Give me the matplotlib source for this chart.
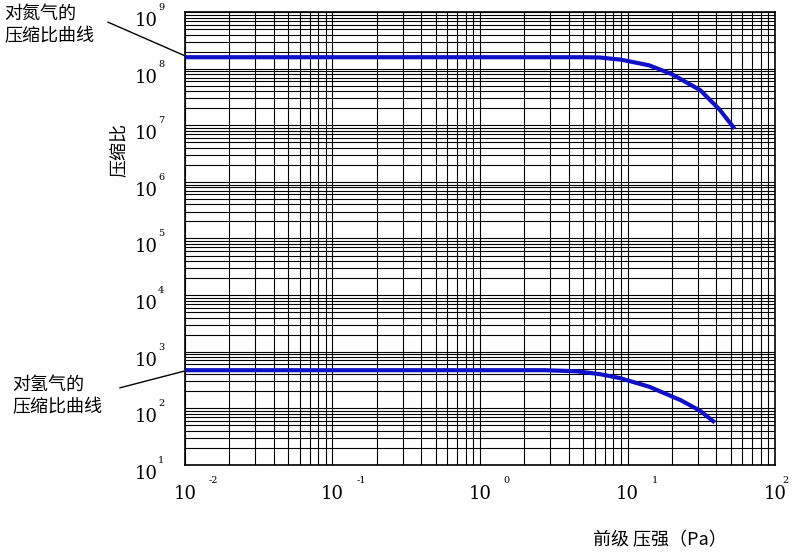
import matplotlib
matplotlib.use("Agg")
import matplotlib.pyplot as plt
from matplotlib.ticker import LogLocator, NullFormatter

plt.rcParams['font.family'] = ['Noto Sans CJK SC', 'DejaVu Sans']

n2_x = [0.01, 1.0, 5.0, 6.5, 9.0, 14, 20, 31, 42, 52]
n2_y = [1.6e8, 1.6e8, 1.6e8, 1.58e8, 1.45e8, 1.15e8, 8.0e7, 4.2e7, 1.9e7, 9.3e6]
h2_x = [0.01, 1.0, 2.75, 4.5, 6.5, 8.9, 14, 23, 31, 38]
h2_y = [470, 470, 470, 450, 400, 340, 240, 138, 90, 59]

x_ticks = [0.01, 0.1, 1, 10, 100]
x_labels = ["-2", "-1", "0", "1", "2"]
y_ticks = [10**k for k in range(1, 10)]
y_labels = [str(k) for k in range(1, 10)]

fig = plt.figure(figsize=(8, 5.54), dpi=100)
ax = fig.add_axes([0.231, 0.161, 0.738, 0.817])
ax.set_xscale('log'); ax.set_yscale('log')
ax.set_xlim(0.01, 100); ax.set_ylim(10, 1e9)
ax.xaxis.set_minor_locator(LogLocator(base=10, subs=range(2, 10)))
ax.yaxis.set_minor_locator(LogLocator(base=10, subs=range(2, 10), numticks=20))
ax.xaxis.set_minor_formatter(NullFormatter()); ax.yaxis.set_minor_formatter(NullFormatter())
ax.grid(True, which='both', color='black', linewidth=0.8)
ax.set_xticks(x_ticks); ax.set_xticklabels([]); ax.set_yticks(y_ticks); ax.set_yticklabels([])
ax.tick_params(which='both', length=0)
for s in ax.spines.values():
    s.set_linewidth(1.2)

ax.plot(n2_x, n2_y, color='#1010c8', lw=3)
ax.plot(h2_x, h2_y, color='#1010c8', lw=3)

tr = ax.get_xaxis_transform()
for i, (v, l) in enumerate(zip(x_ticks, x_labels)):
    ax.text(v, -0.065, "10", transform=tr, ha='center', va='center', fontsize=13, family='DejaVu Serif')
    ax.text(v * (1.12 if i == len(x_ticks) - 1 else 1.45), -0.035, l, transform=tr,
            ha='left', va='center', fontsize=7, family='DejaVu Serif')
ty = ax.get_yaxis_transform()
for v, l in zip(y_ticks, y_labels):
    ax.text(-0.045, v, "10", transform=ty, ha='right', va='top', fontsize=13, family='DejaVu Serif')
    ax.text(-0.045, v, l, transform=ty, ha='left', va='bottom', fontsize=7, family='DejaVu Serif')

fig.text(0.15, 0.73, "压缩比", rotation=90, ha='center', va='center', fontsize=13)
fig.text(0.825, 0.025, "前级 压强（Pa）", ha='center', va='center', fontsize=13)

fig.text(0.005, 0.955, "对氮气的\n压缩比曲线", ha='left', va='center', fontsize=13, linespacing=1.3)
fig.text(0.015, 0.285, "对氢气的\n压缩比曲线", ha='left', va='center', fontsize=13, linespacing=1.3)
fig.add_artist(plt.Line2D([0.135, 0.23], [0.96, 0.9], color='black', lw=1, transform=fig.transFigure))
fig.add_artist(plt.Line2D([0.15, 0.23], [0.3, 0.33], color='black', lw=1, transform=fig.transFigure))

fig.savefig("out.png", dpi=100)
